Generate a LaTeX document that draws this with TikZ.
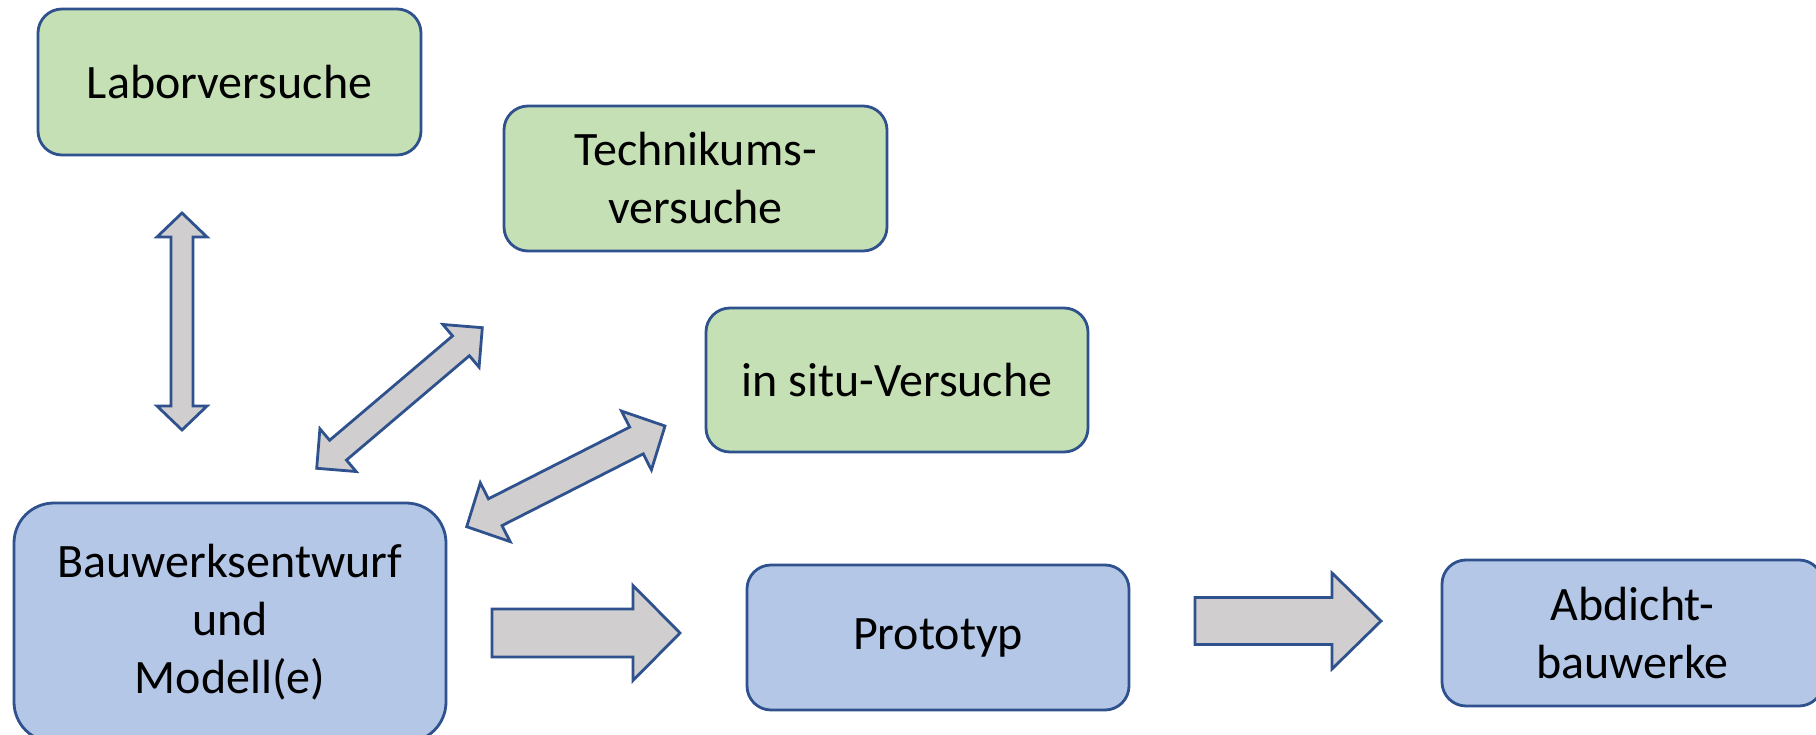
\documentclass[tikz,border=0pt]{standalone}
\usepackage{fontspec}
\setmainfont{Carlito}
\usetikzlibrary{calc}
\definecolor{edgeblue}{HTML}{2F528F}
\definecolor{greenfill}{HTML}{C5E0B4}
\definecolor{bluefill}{HTML}{B4C7E7}
\definecolor{arrowfill}{HTML}{D0CECE}
% double block arrow: tipA, tipB, shaft half width, head half width, head length
\newcommand\dblblockarrow[5]{%
 \draw[blockarrow] (#1) -- ($(#1)!#5!(#2)!#4!90:(#2)$) -- ($(#1)!#5!(#2)!#3!90:(#2)$)
   -- ($(#2)!#5!(#1)!#3!-90:(#1)$) -- ($(#2)!#5!(#1)!#4!-90:(#1)$) -- (#2)
   -- ($(#2)!#5!(#1)!#4!90:(#1)$) -- ($(#2)!#5!(#1)!#3!90:(#1)$)
   -- ($(#1)!#5!(#2)!#3!-90:(#2)$) -- ($(#1)!#5!(#2)!#4!-90:(#2)$) -- cycle;}
% single block arrow: tail, tip, shaft half width, head half width, head length
\newcommand\sglblockarrow[5]{%
 \draw[blockarrow] ($(#1)!#3!90:(#2)$) -- ($(#2)!#5!(#1)!#3!-90:(#1)$)
   -- ($(#2)!#5!(#1)!#4!-90:(#1)$) -- (#2) -- ($(#2)!#5!(#1)!#4!90:(#1)$)
   -- ($(#2)!#5!(#1)!#3!90:(#1)$) -- ($(#1)!#3!-90:(#2)$) -- cycle;}
\tikzset{
  box/.style={draw=edgeblue, line width=2.8pt, rounded corners=24pt, inner sep=0pt,
    align=center, font=\fontsize{48}{58}\selectfont, text=black},
  greenbox/.style={box, fill=greenfill},
  bluebox/.style={box, fill=bluefill},
  blockarrow/.style={draw=edgeblue, line width=2.8pt, fill=arrowfill, line join=miter}
}
\begin{document}
\begin{tikzpicture}[x=1pt, y=-1pt]
\useasboundingbox (0,0) rectangle (1816,735);
\clip (0,0) rectangle (1816,735);
\fill[white] (0,0) rectangle (1816,735);

\node[greenbox, minimum width=383pt, minimum height=146pt] (labor) at (229.5,82) {Laborversuche};
\node[greenbox, minimum width=383pt, minimum height=145pt] (technikum) at (695.5,178.5) {Technikums-\\versuche};
\node[greenbox, minimum width=382pt, minimum height=144pt] (insitu) at (897,380) {in situ-Versuche};
\node[bluebox, rounded corners=40pt, minimum width=432pt, minimum height=239pt] (bauwerk) at (230,622.5) {Bauwerksentwurf\\und\\Modell(e)};
\node[bluebox, minimum width=382pt, minimum height=145pt] (prototyp) at (938,637.5) {Prototyp};
\node[bluebox, minimum width=381pt, minimum height=146pt] (abdicht) at (1632.5,633) {Abdicht-\\bauwerke};

% arrow end points
\coordinate (v1) at (182,213);
\coordinate (v2) at (182,430);
\coordinate (d1a) at (482.3,327.7);
\coordinate (d1b) at (316.7,468.3);
\coordinate (d2a) at (665,426);
\coordinate (d2b) at (466.7,526.7);
\coordinate (h1a) at (492,633);
\coordinate (h1b) at (680,633);
\coordinate (h2a) at (1195,621);
\coordinate (h2b) at (1381,621);

\dblblockarrow{v1}{v2}{11pt}{25pt}{24pt}
\dblblockarrow{d1a}{d1b}{13pt}{28pt}{28pt}
\dblblockarrow{d2a}{d2b}{15pt}{33pt}{32pt}
\sglblockarrow{h1a}{h1b}{24pt}{47.5pt}{47pt}
\sglblockarrow{h2a}{h2b}{23.5pt}{48pt}{49pt}
\end{tikzpicture}
\end{document}
